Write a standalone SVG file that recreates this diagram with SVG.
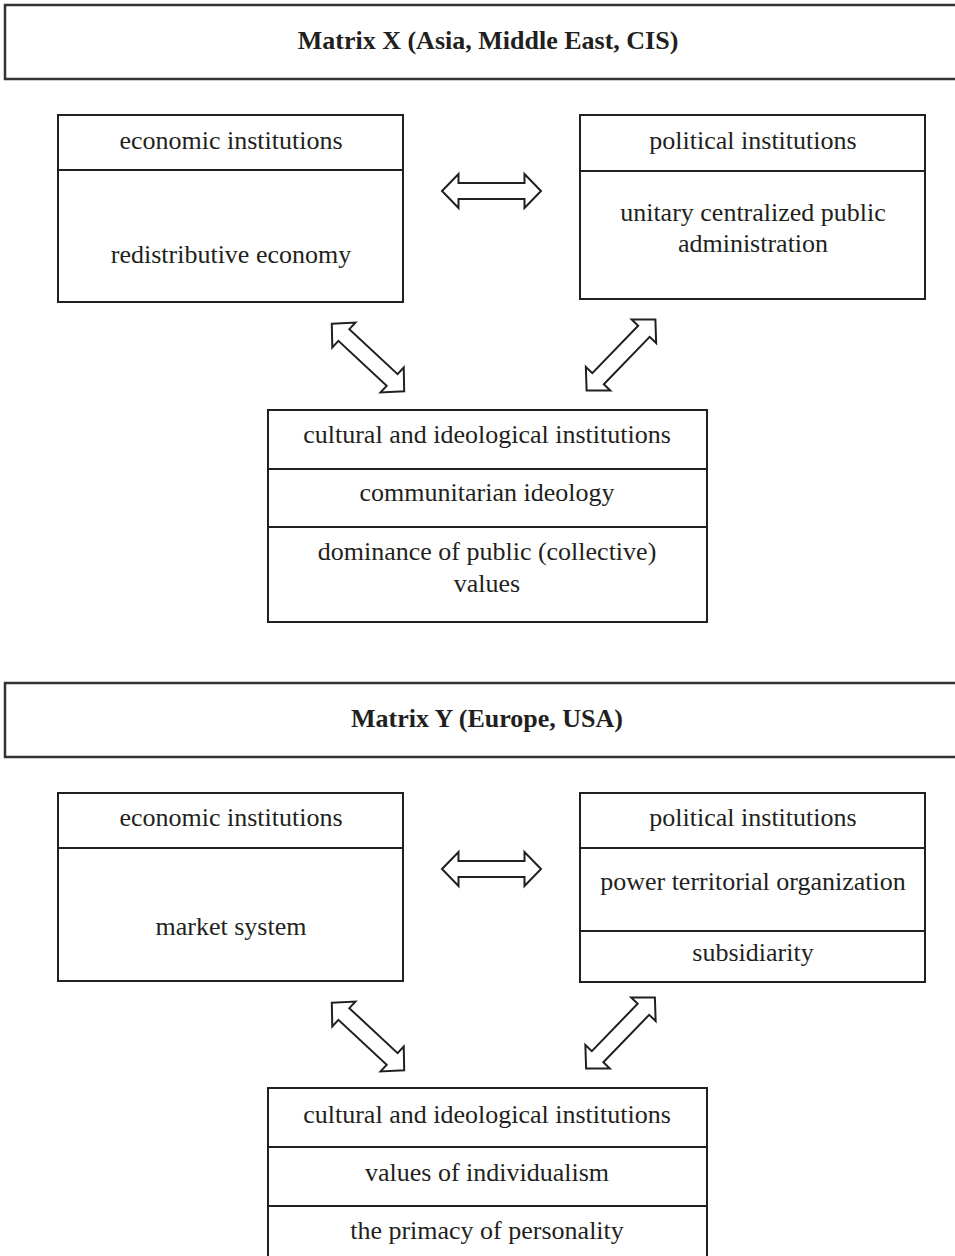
<svg xmlns="http://www.w3.org/2000/svg" xmlns:xlink="http://www.w3.org/1999/xlink" width="955" height="1256" viewBox="0 0 955 1256">
<style>
  .box { fill: #ffffff; stroke: #231f20; stroke-width: 2; }
  .title { fill: #ffffff; stroke: #333333; stroke-width: 2.5; }
  .div { stroke: #231f20; stroke-width: 2; }
  text { font-family: "Liberation Serif", "Times New Roman", serif; font-size: 26px; fill: #231f20; text-anchor: middle; }
  .bold { font-weight: bold; }
  .arrow { fill: #ffffff; stroke: #231f20; stroke-width: 2; stroke-linejoin: miter; }
</style>
<defs>
  <path id="dbl" d="M -49.5 0 L -33 -17 L -33 -8 L 33 -8 L 33 -17 L 49.5 0 L 33 17 L 33 8 L -33 8 L -33 17 Z"/>
</defs>
<rect width="955" height="1256" fill="#ffffff"/>

<!-- Matrix X -->
<g id="titleX">
  <rect class="title" x="5" y="5" width="960" height="74"/>
  <text class="bold" x="488" y="49">Matrix X (Asia, Middle East, CIS)</text>
</g>
<g id="econX">
  <rect class="box" x="58" y="115" width="345" height="187"/>
  <line class="div" x1="58" y1="170" x2="403" y2="170"/>
  <text x="231" y="149">economic institutions</text>
  <text x="231" y="263">redistributive economy</text>
</g>
<g id="polX">
  <rect class="box" x="580" y="115" width="345" height="184"/>
  <line class="div" x1="580" y1="171" x2="925" y2="171"/>
  <text x="753" y="149">political institutions</text>
  <text x="753" y="221">unitary centralized public</text>
  <text x="753" y="252">administration</text>
</g>
<g id="cultX">
  <rect class="box" x="268" y="410" width="439" height="212"/>
  <line class="div" x1="268" y1="469" x2="707" y2="469"/>
  <line class="div" x1="268" y1="527" x2="707" y2="527"/>
  <text x="487" y="443">cultural and ideological institutions</text>
  <text x="487" y="501">communitarian ideology</text>
  <text x="487" y="560">dominance of public (collective)</text>
  <text x="487" y="592">values</text>
</g>

<!-- Matrix Y -->
<g id="titleY">
  <rect class="title" x="5" y="683" width="960" height="74"/>
  <text class="bold" x="487" y="727">Matrix Y (Europe, USA)</text>
</g>
<g id="econY">
  <rect class="box" x="58" y="793" width="345" height="188"/>
  <line class="div" x1="58" y1="848" x2="403" y2="848"/>
  <text x="231" y="826">economic institutions</text>
  <text x="231" y="935">market system</text>
</g>
<g id="polY">
  <rect class="box" x="580" y="793" width="345" height="189"/>
  <line class="div" x1="580" y1="848" x2="925" y2="848"/>
  <line class="div" x1="580" y1="931" x2="925" y2="931"/>
  <text x="753" y="826">political institutions</text>
  <text x="753" y="890">power territorial organization</text>
  <text x="753" y="961">subsidiarity</text>
</g>
<g id="cultY">
  <rect class="box" x="268" y="1088" width="439" height="200"/>
  <line class="div" x1="268" y1="1147" x2="707" y2="1147"/>
  <line class="div" x1="268" y1="1206" x2="707" y2="1206"/>
  <text x="487" y="1123">cultural and ideological institutions</text>
  <text x="487" y="1181">values of individualism</text>
  <text x="487" y="1239">the primacy of personality</text>
</g>

<g id="connectors">
  <use xlink:href="#dbl" class="arrow" transform="translate(491.5,191)"/>
  <use xlink:href="#dbl" class="arrow" transform="translate(368,357.5) rotate(43)"/>
  <use xlink:href="#dbl" class="arrow" transform="translate(621,355) rotate(-46)"/>
  <use xlink:href="#dbl" class="arrow" transform="translate(491.5,869)"/>
  <use xlink:href="#dbl" class="arrow" transform="translate(368,1036.5) rotate(43)"/>
  <use xlink:href="#dbl" class="arrow" transform="translate(620.5,1033) rotate(-46)"/>
</g>
</svg>
